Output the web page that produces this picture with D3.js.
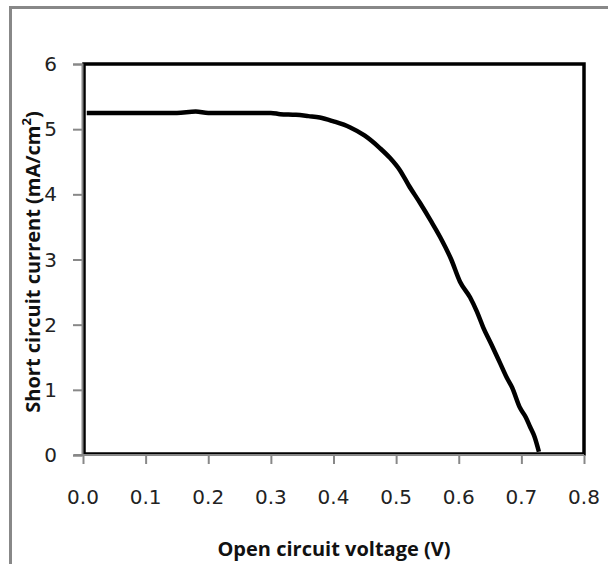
<!DOCTYPE html>
<html><head><meta charset="utf-8">
<script src="https://cdn.jsdelivr.net/npm/d3@7"></script>
<style>body{margin:0;background:#fff}svg{display:block}</style>
</head><body>
<script>
const voltage = [0.006,0.05,0.10,0.15,0.18,0.20,0.25,0.30,0.315,0.34,0.36,0.378,0.40,0.426,0.45,0.474,0.49,0.506,0.52,0.538,0.555,0.570,0.588,0.602,0.618,0.629,0.639,0.652,0.666,0.677,0.685,0.698,0.707,0.714,0.721,0.728];
const current = [5.25,5.25,5.25,5.25,5.27,5.25,5.25,5.25,5.23,5.22,5.20,5.18,5.12,5.03,4.90,4.71,4.56,4.37,4.14,3.87,3.60,3.35,3.00,2.66,2.42,2.20,1.96,1.70,1.41,1.18,1.04,0.72,0.58,0.43,0.28,0.05];
const xTicks = [0,0.1,0.2,0.3,0.4,0.5,0.6,0.7,0.8];
const yTicks = [0,1,2,3,4,5,6];

const W=608,H=564;
const svg=d3.select("body").append("svg").attr("width",W).attr("height",H);
svg.append("rect").attr("x",10.5).attr("y",7.5).attr("width",W+20).attr("height",H+20)
  .attr("fill","none").attr("stroke","#888").attr("stroke-width",3);

const L=83,R=584,T=64,B=455;
const x=d3.scaleLinear().domain([0,0.8]).range([L,R]);
const y=d3.scaleLinear().domain([0,6]).range([B,T]);

svg.append("rect").attr("x",L+1).attr("y",T).attr("width",R-L-1).attr("height",B-T-1)
  .attr("fill","none").attr("stroke","#000").attr("stroke-width",3.5);

const xa=svg.append("g").attr("transform",`translate(0,${B})`)
  .call(d3.axisBottom(x).tickValues(xTicks).tickSize(9).tickFormat(""));
const ya=svg.append("g").attr("transform",`translate(${L-1},0)`)
  .call(d3.axisLeft(y).tickValues(yTicks).tickSize(9).tickFormat(""));
[xa,ya].forEach(a=>{
  a.select(".domain").attr("stroke","#888").attr("stroke-width",2);
  a.selectAll(".tick line").attr("stroke","#888").attr("stroke-width",2);
});
xa.selectAll(".domain").attr("d",`M${L-9},0H${R}`);

const tickFont="'DejaVu Sans',sans-serif";
svg.append("g").selectAll("text").data(xTicks).join("text")
  .attr("x",d=>x(d)).attr("y",504).attr("text-anchor","middle")
  .attr("font-family",tickFont).attr("font-size",20).attr("fill","#222")
  .text(d3.format(".1f"));
svg.append("g").selectAll("text").data(yTicks).join("text")
  .attr("x",57).attr("y",d=>y(d)+7).attr("text-anchor","end")
  .attr("font-family",tickFont).attr("font-size",20).attr("fill","#222")
  .text(d3.format("d"));

const line=d3.line().x((d,i)=>x(voltage[i])).y((d,i)=>y(current[i])).curve(d3.curveMonotoneX);
svg.append("path").datum(current).attr("d",line).attr("fill","none")
  .attr("stroke","#000").attr("stroke-width",4.5).attr("stroke-linejoin","round").attr("stroke-linecap","butt");

svg.append("text").attr("x",334).attr("y",556).attr("text-anchor","middle")
  .attr("font-family","'Open Sans',sans-serif").attr("font-weight","bold").attr("font-size",20)
  .attr("fill","#111").text("Open circuit voltage (V)");
const yt=svg.append("text").attr("transform",`translate(40,262) rotate(-90)`).attr("text-anchor","middle")
  .attr("font-family","'Open Sans',sans-serif").attr("font-weight","bold").attr("font-size",20).attr("fill","#111");
yt.append("tspan").text("Short circuit current (mA/cm");
yt.append("tspan").attr("baseline-shift","super").attr("font-size",13).text("2");
yt.append("tspan").text(")");
</script>
</body></html>
